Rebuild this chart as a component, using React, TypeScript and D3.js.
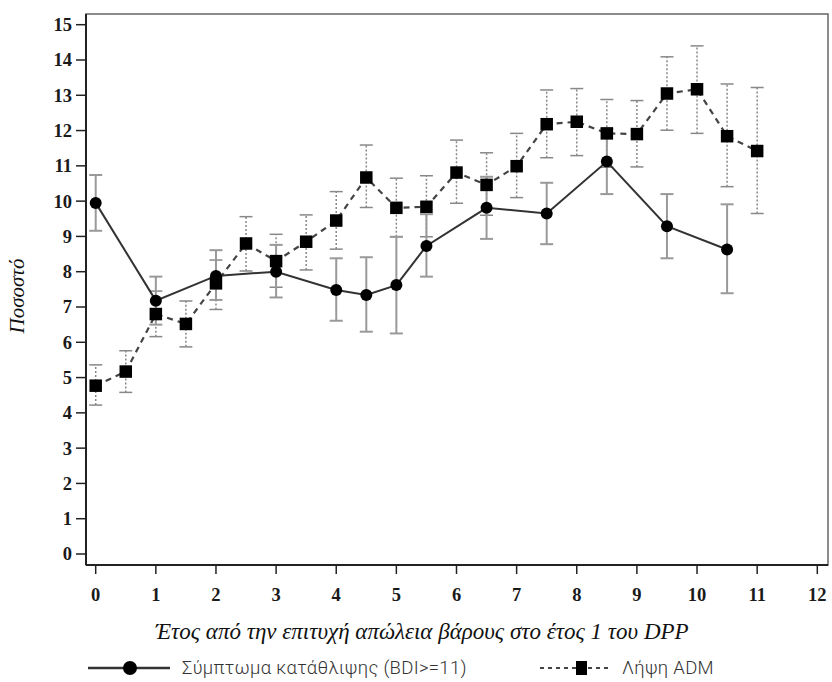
import React from "react";
import * as d3 from "d3";

const xTicks = [0, 1, 2, 3, 4, 5, 6, 7, 8, 9, 10, 11, 12];
const yTicks = [0, 1, 2, 3, 4, 5, 6, 7, 8, 9, 10, 11, 12, 13, 14, 15];

const depX = [0, 1, 2, 3, 4, 4.5, 5, 5.5, 6.5, 7.5, 8.5, 9.5, 10.5];
const depVal = [9.95, 7.18, 7.88, 8.0, 7.48, 7.34, 7.62, 8.73, 9.81, 9.65, 11.12, 9.29, 8.63];
const depLo = [9.16, 6.5, 7.2, 7.27, 6.61, 6.3, 6.25, 7.86, 8.93, 8.78, 10.2, 8.38, 7.39];
const depHi = [10.74, 7.86, 8.61, 8.76, 8.38, 8.41, 8.99, 9.63, 10.69, 10.52, 12.04, 10.2, 9.91];

const admX = [0, 0.5, 1, 1.5, 2, 2.5, 3, 3.5, 4, 4.5, 5, 5.5, 6, 6.5, 7, 7.5, 8, 8.5, 9, 9.5, 10, 10.5, 11];
const admVal = [4.77, 5.17, 6.8, 6.52, 7.67, 8.8, 8.3, 8.85, 9.45, 10.67, 9.81, 9.84, 10.81, 10.46, 10.99, 12.18, 12.25, 11.92, 11.9, 13.05, 13.17, 11.84, 11.42];
const admLo = [4.22, 4.58, 6.16, 5.87, 6.93, 8.02, 7.56, 8.05, 8.64, 9.82, 8.99, 8.99, 9.94, 9.6, 10.1, 11.23, 11.29, 10.96, 10.97, 12.01, 11.92, 10.41, 9.65];
const admHi = [5.36, 5.76, 7.45, 7.17, 8.33, 9.56, 9.06, 9.61, 10.27, 11.59, 10.65, 10.72, 11.73, 11.37, 11.92, 13.15, 13.19, 12.88, 12.85, 14.09, 14.4, 13.32, 13.22];

const yLabel = "Ποσοστό";
const xLabel = "Έτος από την επιτυχή απώλεια βάρους στο έτος 1 του DPP";
const depName = "Σύμπτωμα κατάθλιψης (BDI>=11)";
const admName = "Λήψη ADM";

export default function App() {
  const W = 832, H = 682;
  const frame = { left: 86, top: 14, right: 828, bottom: 565 };
  const x = d3.scaleLinear().domain([0, 12]).range([95.7, 817.3]);
  const y = d3.scaleLinear().domain([0, 15]).range([554, 24.7]);
  const line = d3.line<[number, number]>().x(d => x(d[0])).y(d => y(d[1]));
  const depPts = depX.map((v, i) => [v, depVal[i]] as [number, number]);
  const admPts = admX.map((v, i) => [v, admVal[i]] as [number, number]);
  const serif = "Liberation Serif, Times New Roman, serif";
  const sans = "Roboto, Noto Sans, sans-serif";
  const cap = 6.5;
  const sq = 12.5;
  return (
    <svg width={W} height={H} style={{ position: "absolute", left: 0, top: 0, background: "#fff" }}>
      <rect x={0} y={0} width={W} height={H} fill="#fff" />
      {/* frame */}
      <rect x={frame.left} y={frame.top} width={frame.right - frame.left} height={frame.bottom - frame.top}
        fill="none" stroke="#666" strokeWidth={1.5} />
      <line x1={frame.left} x2={frame.left} y1={frame.top} y2={frame.bottom} stroke="#222" strokeWidth={2} />
      <line x1={frame.left} x2={frame.right} y1={frame.bottom} y2={frame.bottom} stroke="#222" strokeWidth={2} />
      {/* y ticks */}
      {yTicks.map(t => (
        <g key={"y" + t}>
          <line x1={76} x2={frame.left} y1={y(t)} y2={y(t)} stroke="#222" strokeWidth={1.5} />
          <text x={72} y={y(t)} dy="0.35em" textAnchor="end" fontFamily={serif} fontWeight="bold" fontSize={18.5} fill="#1a1a1a">{t}</text>
        </g>
      ))}
      {/* x ticks */}
      {xTicks.map(t => (
        <g key={"x" + t}>
          <line x1={x(t)} x2={x(t)} y1={frame.bottom} y2={frame.bottom + 9} stroke="#222" strokeWidth={1.5} />
          <text x={x(t)} y={601} textAnchor="middle" fontFamily={serif} fontWeight="bold" fontSize={18.5} fill="#1a1a1a">{t}</text>
        </g>
      ))}
      {/* axis labels */}
      <text transform={`translate(24,${296}) rotate(-90)`} textAnchor="middle" fontFamily={serif}
        fontStyle="italic" fontSize={21} fill="#111">{yLabel}</text>
      <text x={422} y={639} textAnchor="middle" fontFamily={serif} fontStyle="italic" fontSize={23} fill="#111">{xLabel}</text>
      {/* ADM error bars */}
      {admX.map((v, i) => (
        <g key={"ae" + i}>
          <line x1={x(v)} x2={x(v)} y1={y(admLo[i])} y2={y(admHi[i])} stroke="#888" strokeWidth={1.5} strokeDasharray="2,2" />
          <line x1={x(v) - cap} x2={x(v) + cap} y1={y(admLo[i])} y2={y(admLo[i])} stroke="#888" strokeWidth={1.5} />
          <line x1={x(v) - cap} x2={x(v) + cap} y1={y(admHi[i])} y2={y(admHi[i])} stroke="#888" strokeWidth={1.5} />
        </g>
      ))}
      {/* depression error bars */}
      {depX.map((v, i) => (
        <g key={"de" + i}>
          <line x1={x(v)} x2={x(v)} y1={y(depLo[i])} y2={y(depHi[i])} stroke="#999" strokeWidth={2} />
          <line x1={x(v) - cap} x2={x(v) + cap} y1={y(depLo[i])} y2={y(depLo[i])} stroke="#999" strokeWidth={2} />
          <line x1={x(v) - cap} x2={x(v) + cap} y1={y(depHi[i])} y2={y(depHi[i])} stroke="#999" strokeWidth={2} />
        </g>
      ))}
      {/* lines */}
      <path d={line(admPts) || ""} fill="none" stroke="#444" strokeWidth={2.2} strokeDasharray="6,5" />
      <path d={line(depPts) || ""} fill="none" stroke="#333" strokeWidth={2} />
      {/* markers */}
      {admPts.map((p, i) => (
        <rect key={"am" + i} x={x(p[0]) - sq / 2} y={y(p[1]) - sq / 2} width={sq} height={sq} fill="#000" />
      ))}
      {depPts.map((p, i) => (
        <circle key={"dm" + i} cx={x(p[0])} cy={y(p[1])} r={6} fill="#000" />
      ))}
      {/* legend */}
      <line x1={88} x2={170} y1={668} y2={668} stroke="#333" strokeWidth={2.5} />
      <circle cx={130} cy={668} r={7} fill="#000" />
      <text x={182} y={668} dy="0.35em" fontFamily={sans} fontWeight={300} fontSize={18.5} letterSpacing={0.3} fill="#333">{depName}</text>
      <line x1={540} x2={612} y1={668} y2={668} stroke="#444" strokeWidth={2} strokeDasharray="4,4" />
      <rect x={576} y={661} width={11} height={14} fill="#000" />
      <text x={622} y={668} dy="0.35em" fontFamily={sans} fontWeight={300} fontSize={18.5} letterSpacing={0.3} fill="#333">{admName}</text>
    </svg>
  );
}
